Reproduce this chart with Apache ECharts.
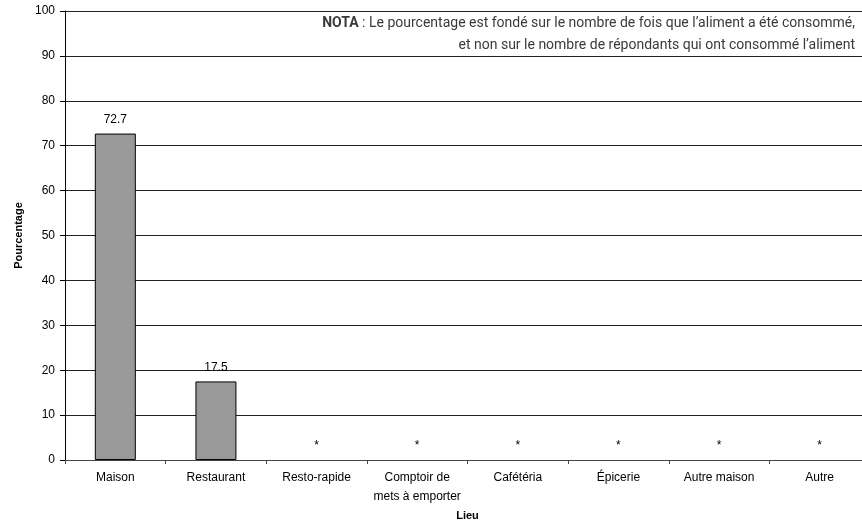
<!DOCTYPE html>
<html>
  <head>
    <meta charset="utf-8" />
    <title>Lieu de consommation</title>
    <script src="https://cdn.jsdelivr.net/npm/echarts@6/dist/echarts.min.js"></script>
    <style>
      html, body { margin: 0; padding: 0; background: #fff; overflow: hidden; }
    </style>
  </head>
  <body>
    <div id="container" style="width: 862px;height: 527px;"></div>

    <script type="text/javascript">
    // categories et valeurs (null = supprimé, affiché avec *)
    var lieux = ['Maison', 'Restaurant', 'Resto-rapide', 'Comptoir de\nmets à emporter',
                 'Cafétéria', 'Épicerie', 'Autre maison', 'Autre'];
    var pourcentages = [72.7, 17.5, null, null, null, null, null, null];
    var yTicks = [0, 100, 10];

    var myChart = echarts.init(document.getElementById('container'));

    var barData = pourcentages.map(function (v) {
        if (v === null) {
            return {
                value: 0,
                itemStyle: { borderWidth: 0, color: 'rgba(0,0,0,0)' },
                label: { formatter: '*', distance: 8 }
            };
        }
        return v;
    });

    var noteStyle = { fontFamily: 'Roboto', fontSize: 14, fill: '#3a3a3a', align: 'right' };

    var option = {
        animation: false,
        // la dernière case dépasse un peu le bord droit
        grid: { left: 65, right: -8, top: 11, bottom: 67, outerBoundsMode: 'none' },
        xAxis: {
            type: 'category',
            data: lieux,
            name: 'Lieu',
            nameLocation: 'middle',
            nameGap: 48,
            nameTextStyle: { fontFamily: 'Liberation Sans', fontSize: 11, fontWeight: 'bold', color: '#000' },
            axisLine: { lineStyle: { color: '#444', width: 1 } },
            axisTick: { show: true, length: 4, lineStyle: { color: '#444' } },
            axisLabel: { fontFamily: 'Liberation Sans', fontSize: 12, color: '#000', margin: 8, lineHeight: 19, interval: 0 }
        },
        yAxis: {
            type: 'value',
            min: yTicks[0],
            max: yTicks[1],
            interval: yTicks[2],
            name: 'Pourcentage',
            nameLocation: 'middle',
            nameGap: 40,
            nameTextStyle: { fontFamily: 'Liberation Sans', fontSize: 11, fontWeight: 'bold', color: '#000' },
            axisLine: { show: true, lineStyle: { color: '#000', width: 1 } },
            axisTick: { show: true, length: 5, lineStyle: { color: '#000' } },
            axisLabel: { fontFamily: 'Liberation Sans', fontSize: 12, color: '#000', margin: 10 },
            splitLine: { lineStyle: { color: '#222', width: 1 } }
        },
        graphic: [{
            type: 'text',
            x: 855,
            y: 23,
            style: Object.assign({
                text: '{b|NOTA} : Le pourcentage est fondé sur le nombre de fois que l’aliment a été consommé,',
                verticalAlign: 'middle',
                rich: { b: { fontFamily: 'Roboto', fontWeight: 'bold', fontSize: 14, fill: '#3a3a3a' } }
            }, noteStyle)
        }, {
            type: 'text',
            x: 855,
            y: 45,
            style: Object.assign({
                text: 'et non sur le nombre de répondants qui ont consommé l’aliment',
                verticalAlign: 'middle'
            }, noteStyle)
        }],
        series: [{
            type: 'bar',
            data: barData,
            barWidth: 41,
            itemStyle: { color: '#999999', borderColor: '#000', borderWidth: 1 },
            label: {
                show: true,
                position: 'top',
                distance: 8,
                fontFamily: 'Liberation Sans',
                fontSize: 12,
                color: '#000'
            }
        }]
    };

    myChart.setOption(option);
    window.addEventListener('resize', myChart.resize);
    </script>
  </body>
</html>
